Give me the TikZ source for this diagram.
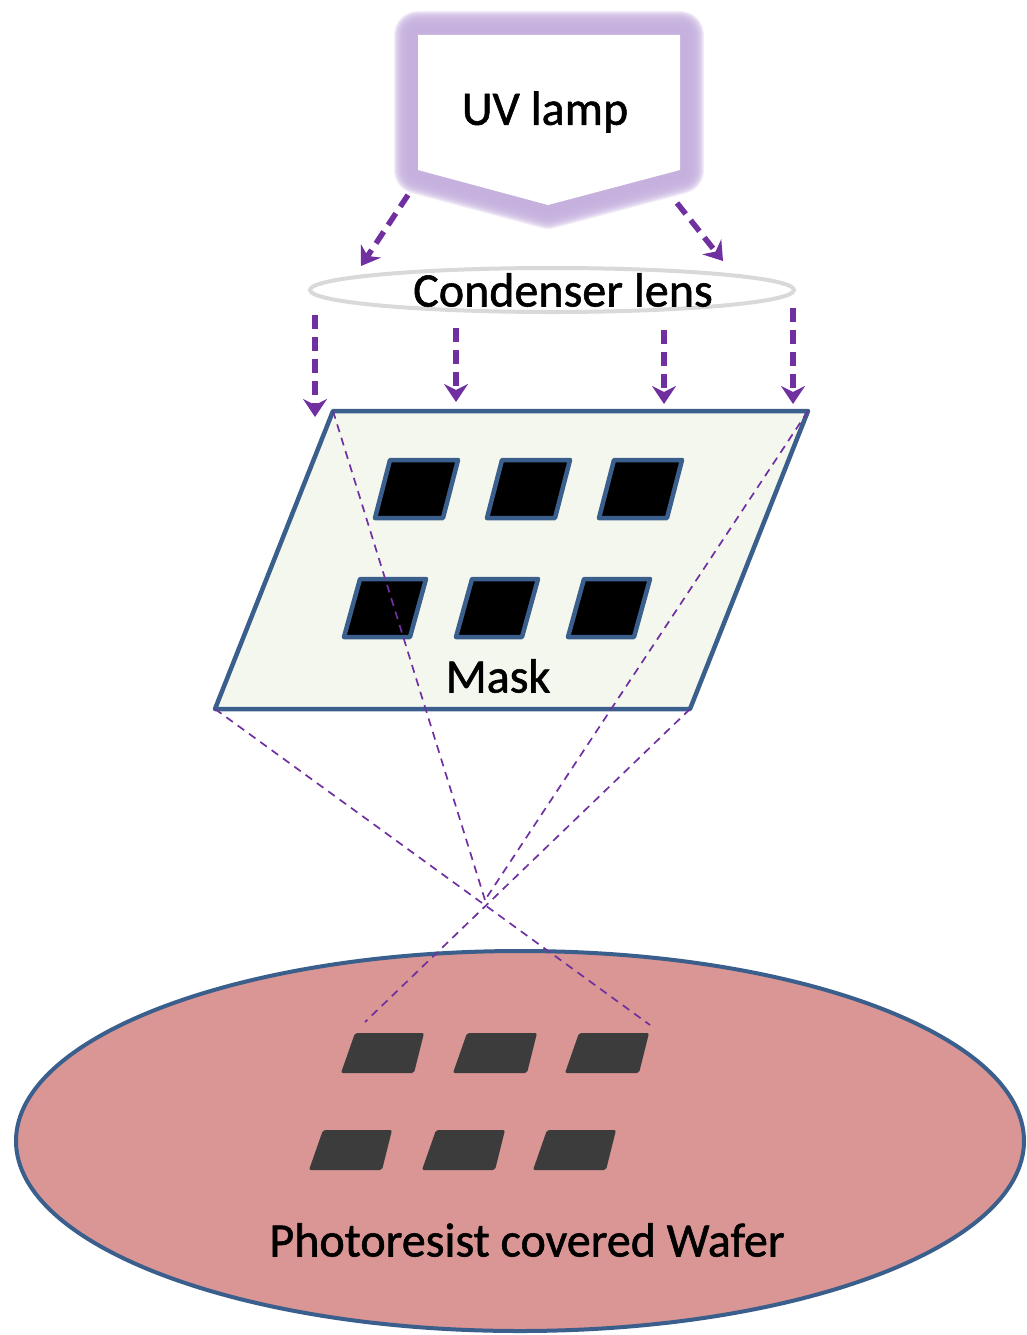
\documentclass[tikz,border=0pt]{standalone}
\usepackage{fontspec}
\setmainfont{Carlito}[FakeBold=1.2]
\usetikzlibrary{arrows.meta,shapes.geometric}
\definecolor{ray}{HTML}{7030A0}
\definecolor{glow}{HTML}{C5B0DE}
\definecolor{edge}{HTML}{3B5F8C}
\definecolor{maskfill}{HTML}{F4F7EE}
\definecolor{waferfill}{HTML}{D99694}
\definecolor{print}{HTML}{3C3C3C}
\definecolor{lensline}{HTML}{D9D9D9}
\tikzset{
  beam/.style={draw=ray, line width=5.5pt, dash pattern=on 14pt off 8pt,
    -{Stealth[length=18pt,width=24pt,inset=6pt]}},
  proj/.style={draw=ray, line width=1.7pt, dash pattern=on 8pt off 6pt},
  hole/.style={fill=black, draw=edge, line width=4.5pt, line join=round},
  imprint/.style={fill=print, rounded corners=2pt},
  label/.style={font=\fontsize{48}{52}\selectfont, inner sep=0pt}
}
\begin{document}
\begin{tikzpicture}[x=1pt,y=-1pt]
\useasboundingbox (0,0) rectangle (1026,1335);

% UV lamp: pentagon with a soft lavender halo
\def\lampshape{(418,35) -- (680,35) -- (680,170) -- (548,205) -- (418,170) -- cycle}
\foreach \w in {48,46,...,12} {
  \draw[glow, line width=\w pt, line join=round, draw opacity=0.22] \lampshape;
}
\draw[glow, line width=14pt, line join=round] \lampshape;
\fill[white] \lampshape;
\node[label] (lamp) at (545,112) {UV lamp};

% condenser lens
\node[draw=lensline, line width=4pt, ellipse, minimum width=484pt,
      minimum height=44pt, inner sep=0pt] (lens) at (552,290) {};
\node[label] (lenstext) at (563,290) {Condenser lens};

% rays from the lamp to the lens
\coordinate (l1) at (408,195); \coordinate (l1e) at (361,266);
\coordinate (l2) at (677,203); \coordinate (l2e) at (723,261);
\draw[beam] (l1) -- (l1e);
\draw[beam] (l2) -- (l2e);

% rays from the lens to the mask
\coordinate (r1) at (315,315); \coordinate (r1e) at (315,417);
\coordinate (r2) at (456,328); \coordinate (r2e) at (456,402);
\coordinate (r3) at (664,330); \coordinate (r3e) at (664,404);
\coordinate (r4) at (793,308); \coordinate (r4e) at (793,404);
\foreach \a in {1,2,3,4} { \draw[beam] (r\a) -- (r\a e); }

% mask
\coordinate (mtl) at (333,411);
\coordinate (mtr) at (808,411);
\coordinate (mbr) at (690,709);
\coordinate (mbl) at (215,709);
\draw[fill=maskfill, draw=edge, line width=4.5pt, line join=round]
  (mtl) -- (mtr) -- (mbr) -- (mbl) -- cycle;
\draw[hole] (390,460) -- (458,460) -- (443,518) -- (375,518) -- cycle;
\draw[hole] (502,460) -- (570,460) -- (555,518) -- (487,518) -- cycle;
\draw[hole] (614,460) -- (682,460) -- (667,518) -- (599,518) -- cycle;
\draw[hole] (360,579) -- (426,579) -- (410,637) -- (344,637) -- cycle;
\draw[hole] (472,579) -- (538,579) -- (522,637) -- (456,637) -- cycle;
\draw[hole] (584,579) -- (650,579) -- (634,637) -- (568,637) -- cycle;
\node[label] (masktext) at (498,676) {Mask};

% wafer
\node[draw=edge, fill=waferfill, line width=4pt, ellipse, minimum width=1008pt,
      minimum height=380pt, inner sep=0pt] (wafer) at (520,1141) {};
\fill[imprint] (355,1033) -- (424,1033) -- (414,1073) -- (341,1073) -- cycle;
\fill[imprint] (467,1033) -- (537,1033) -- (527,1073) -- (453,1073) -- cycle;
\fill[imprint] (579,1033) -- (649,1033) -- (639,1073) -- (565,1073) -- cycle;
\fill[imprint] (323,1130) -- (392,1130) -- (382,1170) -- (309,1170) -- cycle;
\fill[imprint] (436,1130) -- (505,1130) -- (495,1170) -- (422,1170) -- cycle;
\fill[imprint] (547,1130) -- (616,1130) -- (606,1170) -- (533,1170) -- cycle;
\node[label] (wafertext) at (527,1240) {Photoresist covered Wafer};

% projection lines through the focal point
\coordinate (focus) at (485,900);
\coordinate (w1) at (365,1022);
\coordinate (w2) at (650,1025);
\draw[proj] (mtl) -- (focus);
\draw[proj] (mtr) -- (focus);
\draw[proj] (mbl) -- (w2);
\draw[proj] (mbr) -- (w1);
\end{tikzpicture}
\end{document}
